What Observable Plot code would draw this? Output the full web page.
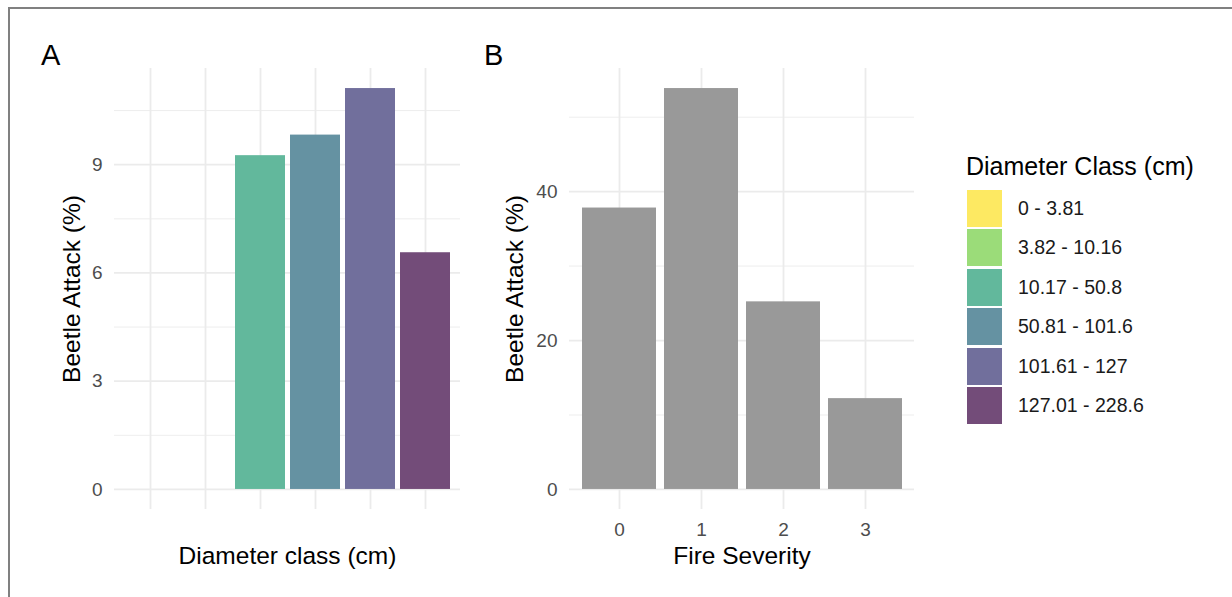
<!DOCTYPE html>
<html>
<head>
<meta charset="utf-8">
<script src="https://cdn.jsdelivr.net/npm/d3@7"></script>
<script src="https://cdn.jsdelivr.net/npm/@observablehq/plot@0.6"></script>
<style>
  html, body { margin: 0; padding: 0; background: #fff; }
  #wrap { position: relative; width: 1232px; height: 597px; overflow: hidden; background: #fff;
          font-family: "Liberation Sans", Arial, Helvetica, sans-serif; }
  #frame { position: absolute; left: 8px; top: 7px; right: -10px; bottom: -10px;
           border-top: 2px solid #808080; border-left: 2px solid #808080; }
  .panel { position: absolute; top: 0; }
  .tag { position: absolute; font-size: 29px; line-height: 29px; color: #000; }
  #legend { position: absolute; left: 966px; top: 0; }
  .ltitle { position: absolute; left: 0; top: 154px; font-size: 25px; line-height: 25px; white-space: nowrap; color: #000; }
  .key { position: absolute; left: 1px; width: 35px; height: 37px; }
  .klabel { position: absolute; left: 52px; font-size: 19.5px; line-height: 37px; white-space: nowrap; color: #1a1a1a; }
</style>
</head>
<body>
<div id="wrap">
  <div id="frame"></div>
  <div class="tag" style="left:41px; top:41px;">A</div>
  <div class="tag" style="left:484px; top:41px;">B</div>
  <div id="panelA" class="panel" style="left:0px;"></div>
  <div id="panelB" class="panel" style="left:455px;"></div>
  <div id="legend"></div>
</div>
<script>
// ---- data ----
const diameterClasses = ["0 - 3.81", "3.82 - 10.16", "10.17 - 50.8", "50.81 - 101.6", "101.61 - 127", "127.01 - 228.6"];
const diameterAttack = [null, null, 9.25, 9.82, 11.11, 6.56];
const classColors = ["#fde962", "#9bdc79", "#62b89c", "#6592a2", "#716f9c", "#734c79"];

const fireSeverity = ["0", "1", "2", "3"];
const fireAttack = [37.8, 53.85, 25.2, 12.2];
const fireColor = "#999999";

const yTicksA = [0, 3, 6, 9];
const yMinorA = [1.5, 4.5, 7.5, 10.5];
const yTicksB = [0, 20, 40];
const yMinorB = [10, 30, 50];

const titleA_y = "Beetle Attack (%)";
const titleA_x = "Diameter class (cm)";
const titleB_y = "Beetle Attack (%)";
const titleB_x = "Fire Severity";
const legendTitle = "Diameter Class (cm)";

// ---- tables ----
const dataA = diameterClasses.map((c, i) => ({cls: c, v: diameterAttack[i]})).filter(d => d.v != null);
const dataB = fireSeverity.map((s, i) => ({sev: s, v: fireAttack[i]}));

const gridCol = "#ebebeb";
const font = "Liberation Sans, Arial, Helvetica, sans-serif";
const tickFont = 19;
const titleFont = 24.5;

function padDomain(max) { const e = max * 0.05; return [-e, max + e]; }

const plotA = Plot.plot({
  width: 465, height: 597,
  marginLeft: 114, marginRight: 5, marginTop: 68, marginBottom: 88,
  style: {fontFamily: font, background: "transparent", overflow: "visible"},
  x: {type: "band", domain: diameterClasses, paddingInner: 0.1, paddingOuter: 0.15, axis: null},
  y: {domain: padDomain(d3.max(diameterAttack)), axis: null},
  color: {domain: diameterClasses, range: classColors},
  marks: [
    Plot.ruleY(yMinorA, {stroke: gridCol, strokeWidth: 0.9}),
    Plot.ruleY(yTicksA, {stroke: gridCol, strokeWidth: 1.8}),
    Plot.ruleX(diameterClasses, {x: d => d, stroke: gridCol, strokeWidth: 1.8}),
    Plot.barY(dataA, {x: "cls", y: "v", fill: "cls"}),
    Plot.axisY(yTicksA, {tickSize: 0, tickPadding: 12, fontSize: tickFont, color: "#4d4d4d", label: null}),
    Plot.text([titleA_y], {frameAnchor: "left", dx: -42, rotate: -90, fontSize: titleFont, fill: "#000", textAnchor: "middle", lineAnchor: "middle"}),
    Plot.text([titleA_x], {frameAnchor: "bottom", dy: 47, fontSize: titleFont, fill: "#000", textAnchor: "middle", lineAnchor: "middle"})
  ]
});
document.getElementById("panelA").appendChild(plotA);

const plotB = Plot.plot({
  width: 475, height: 597,
  marginLeft: 114, marginRight: 16, marginTop: 68, marginBottom: 88,
  style: {fontFamily: font, background: "transparent", overflow: "visible"},
  x: {type: "band", domain: fireSeverity, paddingInner: 0.1, paddingOuter: 0.15, axis: null},
  y: {domain: padDomain(d3.max(fireAttack)), axis: null},
  marks: [
    Plot.ruleY(yMinorB, {stroke: gridCol, strokeWidth: 0.9}),
    Plot.ruleY(yTicksB, {stroke: gridCol, strokeWidth: 1.8}),
    Plot.ruleX(fireSeverity, {x: d => d, stroke: gridCol, strokeWidth: 1.8}),
    Plot.barY(dataB, {x: "sev", y: "v", fill: fireColor}),
    Plot.axisY(yTicksB, {tickSize: 0, tickPadding: 12, fontSize: tickFont, color: "#4d4d4d", label: null}),
    Plot.axisX({tickSize: 0, tickPadding: 13, fontSize: tickFont, color: "#4d4d4d", label: null}),
    Plot.text([titleB_y], {frameAnchor: "left", dx: -54, rotate: -90, fontSize: titleFont, fill: "#000", textAnchor: "middle", lineAnchor: "middle"}),
    Plot.text([titleB_x], {frameAnchor: "bottom", dy: 47, fontSize: titleFont, fill: "#000", textAnchor: "middle", lineAnchor: "middle"})
  ]
});
document.getElementById("panelB").appendChild(plotB);

// ---- legend ----
const legend = document.getElementById("legend");
const lt = document.createElement("div");
lt.className = "ltitle";
lt.textContent = legendTitle;
legend.appendChild(lt);
diameterClasses.forEach((c, i) => {
  const top = 190 + i * 39.4;
  const k = document.createElement("div");
  k.className = "key";
  k.style.top = top + "px";
  k.style.background = classColors[i];
  legend.appendChild(k);
  const l = document.createElement("div");
  l.className = "klabel";
  l.style.top = top + "px";
  l.textContent = c;
  legend.appendChild(l);
});
</script>
</body>
</html>
